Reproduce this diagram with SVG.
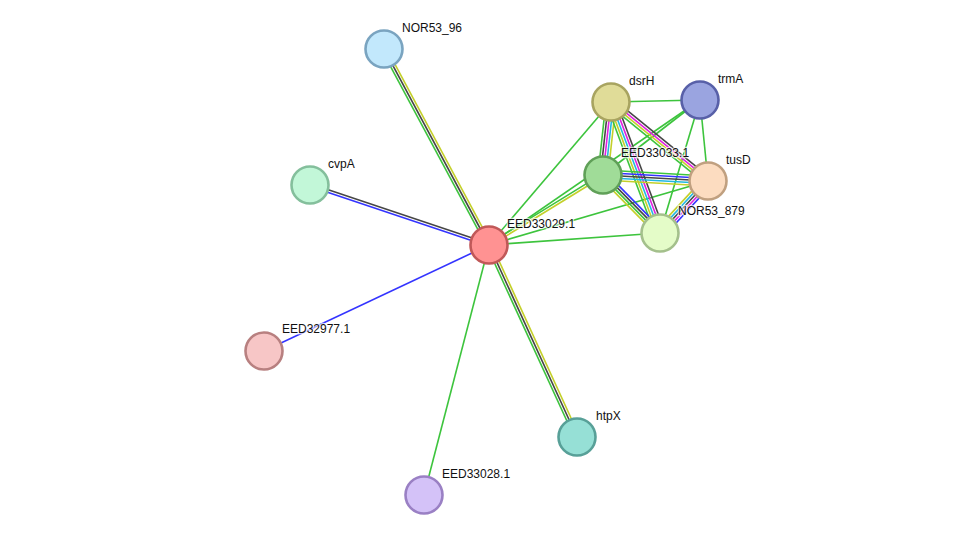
<svg xmlns="http://www.w3.org/2000/svg" width="976" height="541" viewBox="0 0 976 541">
<style>
.e line{stroke-width:1.6;fill:none}
.g{stroke:#3dc43d}.y{stroke:#c4d02a}.k{stroke:#464646}.b{stroke:#3434ff}.m{stroke:#e020e0}.c{stroke:#22b8e0}
.n circle{stroke-width:2.6}
.n text{font-family:"Liberation Sans",Arial,sans-serif;font-size:12px;fill:#111;stroke:#fff;stroke-width:2.5;stroke-opacity:0.7;paint-order:stroke}
</style>
<rect width="976" height="541" fill="#fff"/>
<g id="edges" class="e">
  <line class="b" x1="489" y1="245" x2="264" y2="351"/>
  <line class="g" x1="489" y1="245" x2="424" y2="495"/>
  <line class="g" x1="489" y1="245" x2="611" y2="102"/>
  <line class="g" x1="489" y1="245" x2="700" y2="100"/>
  <line class="g" x1="489" y1="245" x2="708" y2="181"/>
  <line class="g" x1="489" y1="245" x2="660" y2="233"/>
  <line class="g" x1="611" y1="102" x2="700" y2="100"/>
  <line class="g" x1="700" y1="100" x2="603" y2="175"/>
  <line class="g" x1="700" y1="100" x2="708" y2="181"/>
  <line class="g" x1="700" y1="100" x2="660" y2="233"/>
  <g transform="translate(489,245) rotate(-118.18)">
    <line class="g" x1="0" y1="-2.5" x2="222.4" y2="-2.5"/>
    <line class="k" x1="0" y1="0" x2="222.4" y2="0"/>
    <line class="y" x1="0" y1="2.5" x2="222.4" y2="2.5"/>
  </g>
  <g transform="translate(489,245) rotate(65.38)">
    <line class="g" x1="0" y1="2.5" x2="211.2" y2="2.5"/>
    <line class="k" x1="0" y1="0" x2="211.2" y2="0"/>
    <line class="y" x1="0" y1="-2.5" x2="211.2" y2="-2.5"/>
  </g>
  <g transform="translate(489,245) rotate(-161.47)">
    <line class="k" x1="0" y1="1.25" x2="188.8" y2="1.25"/>
    <line class="b" x1="0" y1="-1.25" x2="188.8" y2="-1.25"/>
  </g>
  <g transform="translate(489,245) rotate(-31.55)">
    <line class="g" x1="0" y1="-1.25" x2="133.8" y2="-1.25"/>
    <line class="y" x1="0" y1="1.25" x2="133.8" y2="1.25"/>
  </g>
  <g transform="translate(611,102) rotate(96.25)">
    <line class="g" x1="0" y1="5" x2="73.4" y2="5"/>
    <line class="k" x1="0" y1="2.5" x2="73.4" y2="2.5"/>
    <line class="m" x1="0" y1="0" x2="73.4" y2="0"/>
    <line class="c" x1="0" y1="-2.5" x2="73.4" y2="-2.5"/>
    <line class="y" x1="0" y1="-5" x2="73.4" y2="-5"/>
  </g>
  <g transform="translate(611,102) rotate(39.16)">
    <line class="k" x1="0" y1="-3.75" x2="125.1" y2="-3.75"/>
    <line class="m" x1="0" y1="-1.25" x2="125.1" y2="-1.25"/>
    <line class="y" x1="0" y1="1.25" x2="125.1" y2="1.25"/>
    <line class="g" x1="0" y1="3.75" x2="125.1" y2="3.75"/>
  </g>
  <g transform="translate(611,102) rotate(69.49)">
    <line class="k" x1="0" y1="-5" x2="139.9" y2="-5"/>
    <line class="m" x1="0" y1="-2.5" x2="139.9" y2="-2.5"/>
    <line class="c" x1="0" y1="0" x2="139.9" y2="0"/>
    <line class="y" x1="0" y1="2.5" x2="139.9" y2="2.5"/>
    <line class="g" x1="0" y1="5" x2="139.9" y2="5"/>
  </g>
  <g transform="translate(603,175) rotate(3.27)">
    <line class="g" x1="0" y1="-5" x2="105.2" y2="-5"/>
    <line class="b" x1="0" y1="-2.5" x2="105.2" y2="-2.5"/>
    <line class="k" x1="0" y1="0" x2="105.2" y2="0"/>
    <line class="c" x1="0" y1="2.5" x2="105.2" y2="2.5"/>
    <line class="y" x1="0" y1="5" x2="105.2" y2="5"/>
  </g>
  <g transform="translate(603,175) rotate(45.5)">
    <line class="b" x1="0" y1="-3.75" x2="81.3" y2="-3.75"/>
    <line class="k" x1="0" y1="-1.25" x2="81.3" y2="-1.25"/>
    <line class="g" x1="0" y1="1.25" x2="81.3" y2="1.25"/>
    <line class="y" x1="0" y1="3.75" x2="81.3" y2="3.75"/>
  </g>
  <g transform="translate(708,181) rotate(132.7)">
    <line class="b" x1="0" y1="-5" x2="70.8" y2="-5"/>
    <line class="m" x1="0" y1="-2.5" x2="70.8" y2="-2.5"/>
    <line class="k" x1="0" y1="0" x2="70.8" y2="0"/>
    <line class="c" x1="0" y1="2.5" x2="70.8" y2="2.5"/>
    <line class="y" x1="0" y1="5" x2="70.8" y2="5"/>
  </g>
</g>
<g id="NOR53_96" class="n"><circle cx="384" cy="49" r="18.5" fill="#c2e8fc" stroke="#7aa4c0"/><text x="402" y="32">NOR53_96</text></g>
<g id="cvpA" class="n"><circle cx="310" cy="185" r="18.5" fill="#c2f7d8" stroke="#84bf9c"/><text x="328" y="168">cvpA</text></g>
<g id="EED32977.1" class="n"><circle cx="264" cy="351" r="18.5" fill="#f7c6c6" stroke="#b88080"/><text x="282" y="333">EED32977.1</text></g>
<g id="EED33028.1" class="n"><circle cx="424" cy="495" r="18.5" fill="#d4c2f8" stroke="#9a80c4"/><text x="442" y="478">EED33028.1</text></g>
<g id="htpX" class="n"><circle cx="577" cy="437" r="18.5" fill="#96e0d6" stroke="#58a098"/><text x="596" y="420">htpX</text></g>
<g id="dsrH" class="n"><circle cx="611" cy="102" r="18.5" fill="#e0dc98" stroke="#a8a460"/><text x="629" y="85">dsrH</text></g>
<g id="trmA" class="n"><circle cx="700" cy="100" r="18.5" fill="#9aa4e0" stroke="#5860a8"/><text x="718" y="83">trmA</text></g>
<g id="EED33033.1" class="n"><circle cx="603" cy="175" r="18.5" fill="#a0dc98" stroke="#60a058"/><text x="621" y="157">EED33033.1</text></g>
<g id="tusD" class="n"><circle cx="708" cy="181" r="18.5" fill="#fcdcc0" stroke="#c0a080"/><text x="726" y="164">tusD</text></g>
<g id="NOR53_879" class="n"><circle cx="660" cy="233" r="18.5" fill="#e4fcc8" stroke="#a4c08c"/><text x="678" y="215">NOR53_879</text></g>
<g id="EED33029.1" class="n"><circle cx="489" cy="245" r="18.5" fill="#ff9292" stroke="#c05858"/><text x="507" y="228">EED33029.1</text></g>
</svg>
